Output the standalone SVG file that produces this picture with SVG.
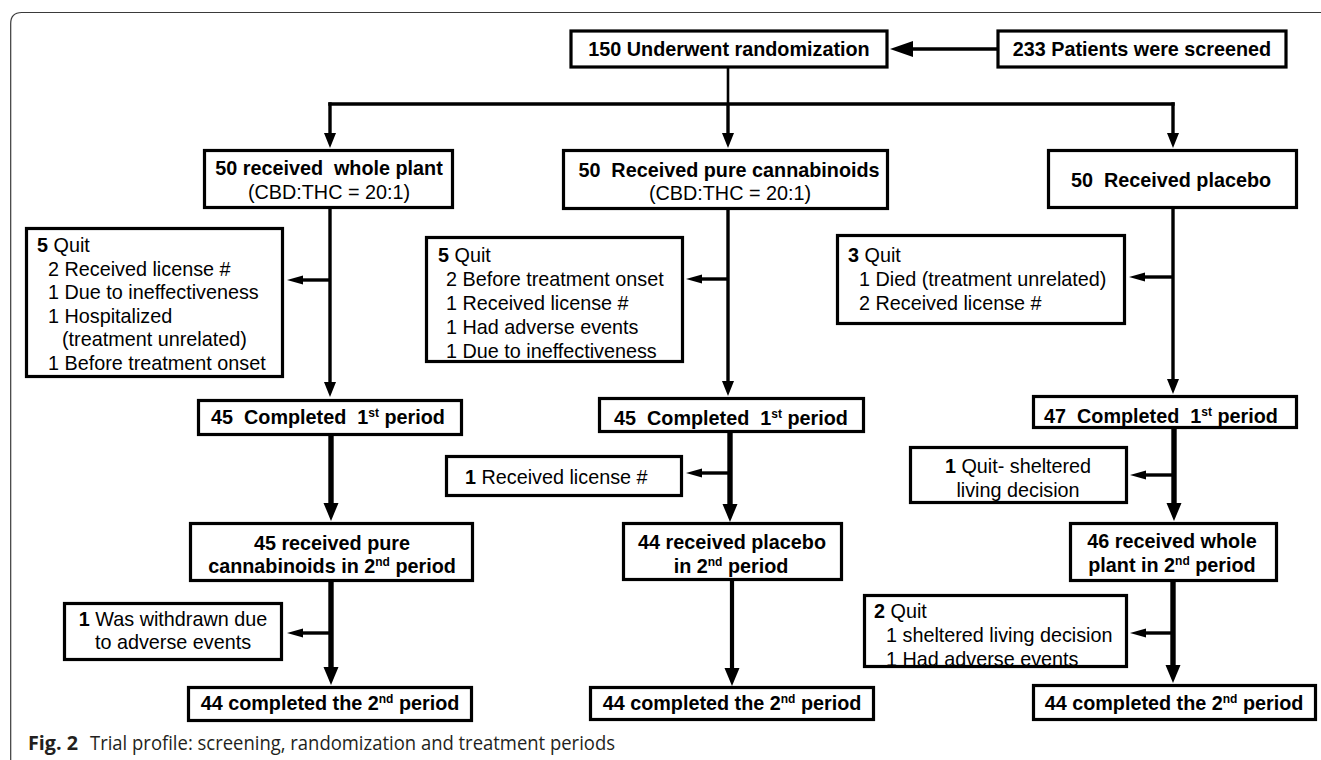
<svg xmlns="http://www.w3.org/2000/svg" width="1321" height="760" viewBox="0 0 1321 760">
<style>
.bx{fill:#fff;stroke:#000;stroke-width:3.2}
.t{font-family:"Liberation Sans",Arial,sans-serif;font-size:19.8px;fill:#000}
.b{font-weight:bold}
.m{text-anchor:middle}
.sup{font-size:12px}
.cn{fill:none;stroke:#000;stroke-linecap:butt}
.w2{stroke-width:2.6}
.w3{stroke-width:3.4}
.w4{stroke-width:4.2}
.w5{stroke-width:5.4}
.cap{font-family:"Open Sans","Noto Sans",sans-serif;font-size:19.5px;fill:#231f20}
</style>
<defs>
<marker id="aS" markerUnits="userSpaceOnUse" markerWidth="40" markerHeight="40" viewBox="0 -20 40 40" refX="0" refY="0" orient="auto" overflow="visible"><path d="M0,-6 L15,0 L0,6 z" fill="#000"/></marker>
<marker id="aL" markerUnits="userSpaceOnUse" markerWidth="40" markerHeight="40" viewBox="0 -20 40 40" refX="0" refY="0" orient="auto" overflow="visible"><path d="M0,-7.5 L18,0 L0,7.5 z" fill="#000"/></marker>
<marker id="aB" markerUnits="userSpaceOnUse" markerWidth="40" markerHeight="40" viewBox="0 -20 40 40" refX="0" refY="0" orient="auto" overflow="visible"><path d="M0,-4.5 L16,0 L0,4.5 z" fill="#000"/></marker>
<marker id="aT" markerUnits="userSpaceOnUse" markerWidth="40" markerHeight="40" viewBox="0 -20 40 40" refX="0" refY="0" orient="auto" overflow="visible"><path d="M0,-8 L23,0 L0,8 z" fill="#000"/></marker>
</defs>
<rect width="1321" height="760" fill="#fff"/>
<path d="M10.7,760 V23.5 Q10.7,12.5 21.7,12.5 H1321" fill="none" stroke="#3a3a3a" stroke-width="1.2"/>

<g id="connectors">
<path class="cn w3" d="M997,49 H913" marker-end="url(#aT)"/>
<path class="cn w2" d="M728,68 V104"/>
<path class="cn w3" d="M328.3,104 H1174.7"/>
<path class="cn w3" d="M330,102.3 V133" marker-end="url(#aS)"/>
<path class="cn w3" d="M728,104 V133" marker-end="url(#aS)"/>
<path class="cn w3" d="M1173,102.3 V133" marker-end="url(#aS)"/>

<path class="cn w3" d="M330,209 V382" marker-end="url(#aS)"/>
<path class="cn w3" d="M330,280 H303" marker-end="url(#aB)"/>
<path class="cn w5" d="M331,436 V503" marker-end="url(#aL)"/>
<path class="cn w5" d="M331,582 V667" marker-end="url(#aL)"/>
<path class="cn w3" d="M331,633 H303" marker-end="url(#aB)"/>

<path class="cn w3" d="M728,210 V381" marker-end="url(#aS)"/>
<path class="cn w3" d="M728,279 H702" marker-end="url(#aB)"/>
<path class="cn w5" d="M730,433 V504" marker-end="url(#aL)"/>
<path class="cn w3" d="M730,473 H702" marker-end="url(#aB)"/>
<path class="cn w4" d="M732,581 V668" marker-end="url(#aL)"/>

<path class="cn w3" d="M1173,209 V379" marker-end="url(#aS)"/>
<path class="cn w3" d="M1173,277 H1145" marker-end="url(#aB)"/>
<path class="cn w5" d="M1174,429 V503" marker-end="url(#aL)"/>
<path class="cn w3" d="M1174,475 H1146" marker-end="url(#aB)"/>
<path class="cn w5" d="M1173,582 V665" marker-end="url(#aL)"/>
<path class="cn w3" d="M1173,633 H1146" marker-end="url(#aB)"/>
</g>

<g id="randomization">
<rect class="bx" x="571" y="31" width="316" height="36"/>
<text class="t b m" x="729" y="56">150 Underwent randomization</text>
</g>
<g id="screened">
<rect class="bx" x="998" y="31" width="288" height="36"/>
<text class="t b m" x="1142" y="56">233 Patients were screened</text>
</g>

<g id="whole-plant">
<rect class="bx" x="204.5" y="150.5" width="248" height="57"/>
<text class="t b m" x="329" y="175" xml:space="preserve">50 received  whole plant</text>
<text class="t m" x="329" y="199">(CBD:THC = 20:1)</text>
</g>
<g id="pure-cannabinoids">
<rect class="bx" x="563.5" y="150.5" width="324" height="58"/>
<text class="t b m" x="729" y="177" xml:space="preserve">50  Received pure cannabinoids</text>
<text class="t m" x="730" y="200">(CBD:THC = 20:1)</text>
</g>
<g id="placebo">
<rect class="bx" x="1048.5" y="150.5" width="248" height="57"/>
<text class="t b m" x="1171" y="187" xml:space="preserve">50  Received placebo</text>
</g>

<g id="quit-1">
<rect class="bx" x="26.5" y="228.5" width="256" height="148"/>
<text class="t" x="37" y="252"><tspan class="b">5</tspan> Quit</text>
<text class="t" x="48" y="275.5">2 Received license #</text>
<text class="t" x="48" y="299">1 Due to ineffectiveness</text>
<text class="t" x="48" y="322.5">1 Hospitalized</text>
<text class="t" x="62" y="346">(treatment unrelated)</text>
<text class="t" x="48" y="369.5">1 Before treatment onset</text>
</g>
<g id="quit-2">
<rect class="bx" x="426.5" y="237.5" width="256" height="124"/>
<text class="t" x="438" y="262"><tspan class="b">5</tspan> Quit</text>
<text class="t" x="446" y="286">2 Before treatment onset</text>
<text class="t" x="446" y="310">1 Received license #</text>
<text class="t" x="446" y="334">1 Had adverse events</text>
<text class="t" x="446" y="358">1 Due to ineffectiveness</text>
</g>
<g id="quit-3">
<rect class="bx" x="837.5" y="235.5" width="287" height="88"/>
<text class="t" x="848" y="262"><tspan class="b">3</tspan> Quit</text>
<text class="t" x="859" y="286">1 Died (treatment unrelated)</text>
<text class="t" x="859" y="310">2 Received license #</text>
</g>

<g id="completed-1-a">
<rect class="bx" x="198.5" y="400.5" width="263" height="34"/>
<text class="t b m" x="328" y="424" xml:space="preserve">45  Completed  1<tspan class="sup" dy="-7">st</tspan><tspan dy="7"> period</tspan></text>
</g>
<g id="completed-1-b">
<rect class="bx" x="599.5" y="398.5" width="264" height="33"/>
<text class="t b m" x="731" y="425" xml:space="preserve">45  Completed  1<tspan class="sup" dy="-7">st</tspan><tspan dy="7"> period</tspan></text>
</g>
<g id="completed-1-c">
<rect class="bx" x="1033.5" y="396.5" width="263" height="31"/>
<text class="t b m" x="1161" y="423" xml:space="preserve">47  Completed  1<tspan class="sup" dy="-7">st</tspan><tspan dy="7"> period</tspan></text>
</g>

<g id="license-2">
<rect class="bx" x="446.5" y="456.5" width="235" height="39"/>
<text class="t" x="465" y="484"><tspan class="b">1</tspan> Received license #</text>
</g>
<g id="sheltered-3">
<rect class="bx" x="910.5" y="447.5" width="216" height="55"/>
<text class="t m" x="1018" y="473"><tspan class="b">1</tspan> Quit- sheltered</text>
<text class="t m" x="1018" y="497">living decision</text>
</g>

<g id="second-1">
<rect class="bx" x="190.5" y="523.5" width="282" height="57"/>
<text class="t b m" x="332" y="550">45 received pure</text>
<text class="t b m" x="332" y="573">cannabinoids in 2<tspan class="sup" dy="-7">nd</tspan><tspan dy="7"> period</tspan></text>
</g>
<g id="second-2">
<rect class="bx" x="623.5" y="523.5" width="218" height="56"/>
<text class="t b m" x="732" y="549">44 received placebo</text>
<text class="t b m" x="731" y="573">in 2<tspan class="sup" dy="-7">nd</tspan><tspan dy="7"> period</tspan></text>
</g>
<g id="second-3">
<rect class="bx" x="1070.5" y="523.5" width="206" height="57"/>
<text class="t b m" x="1172" y="548">46 received whole</text>
<text class="t b m" x="1172" y="572">plant in 2<tspan class="sup" dy="-7">nd</tspan><tspan dy="7"> period</tspan></text>
</g>

<g id="withdrawn-1">
<rect class="bx" x="64.5" y="603.5" width="217" height="56"/>
<text class="t m" x="173" y="626"><tspan class="b">1</tspan> Was withdrawn due</text>
<text class="t m" x="173" y="649">to adverse events</text>
</g>
<g id="quit-3b">
<rect class="bx" x="864.5" y="595.5" width="262" height="71"/>
<text class="t" x="874" y="618"><tspan class="b">2</tspan> Quit</text>
<text class="t" x="886" y="642">1 sheltered living decision</text>
<text class="t" x="886" y="666">1 Had adverse events</text>
</g>

<g id="end-1">
<rect class="bx" x="188.5" y="687.5" width="283" height="33"/>
<text class="t b m" x="330" y="710">44 completed the 2<tspan class="sup" dy="-7">nd</tspan><tspan dy="7"> period</tspan></text>
</g>
<g id="end-2">
<rect class="bx" x="590.5" y="687.5" width="283" height="32"/>
<text class="t b m" x="732" y="710">44 completed the 2<tspan class="sup" dy="-7">nd</tspan><tspan dy="7"> period</tspan></text>
</g>
<g id="end-3">
<rect class="bx" x="1033.5" y="685.5" width="282" height="34"/>
<text class="t b m" x="1174" y="710">44 completed the 2<tspan class="sup" dy="-7">nd</tspan><tspan dy="7"> period</tspan></text>
</g>

<g id="caption">
<text class="cap" x="28" y="750" font-weight="bold" textLength="50" lengthAdjust="spacingAndGlyphs">Fig. 2</text>
<text class="cap" x="90" y="750" textLength="525" lengthAdjust="spacingAndGlyphs">Trial profile: screening, randomization and treatment periods</text>
</g>
</svg>
